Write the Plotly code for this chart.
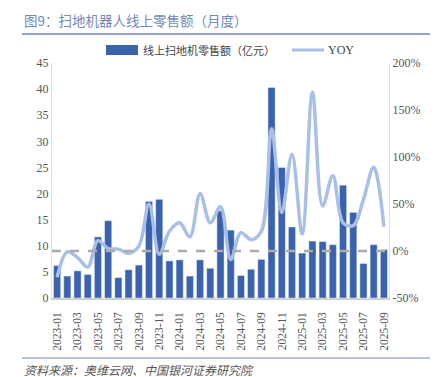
import plotly.graph_objects as go

months = [f"{y}-{m:02d}" for y in (2023, 2024, 2025) for m in range(1, 13)][:33]
sales = [6.2, 4.2, 5.2, 4.5, 11.7, 14.8, 3.9, 5.4, 6.3, 18.5, 18.9, 7.1,
         7.3, 4.2, 7.3, 5.7, 16.7, 13.0, 4.3, 5.5, 7.4, 40.3, 25.0, 13.6,
         8.6, 10.9, 10.8, 10.2, 21.6, 16.4, 6.6, 10.2, 9.25]
yoy = [-28, -1, -7, -17, 11, 2.5, 2, -2.5, 5, 50, -3.5, 21,
       30, 15, 61, 30, 47, -9, 19.5, 12, 21, 130, 41, 103,
       18, 169, 48, 80, 30, 27, 55, 89, 26]
tick_labels = months[::2]
left_ticks = list(range(0, 50, 5))
right_ticks = [-50, 0, 50, 100, 150, 200]
right_text = [f"{v}%" for v in right_ticks]

BAR = "#3A62AD"
LINE = "#A8BFE6"
TITLE = "#7189BD"
SERIF = "Liberation Serif, Noto Sans CJK SC"
CJK = "Noto Sans CJK SC"

fig = go.Figure()
fig.add_trace(go.Bar(x=months, y=sales, marker_color=BAR, name="线上扫地机零售额（亿元）",
                     showlegend=False))
fig.add_trace(go.Scatter(x=months, y=yoy, yaxis="y2", mode="lines",
                         line=dict(color=LINE, width=3.5, shape="spline", smoothing=1.0),
                         name="YOY", showlegend=False))

OFF = 8  # page body margin
W, H = 438 - OFF, 377 - OFF
L, T = 52 - OFF, 63 - OFF
R = W - (389 - OFF)
B = H - (298 - OFF)
pw, ph = W - L - R, H - T - B
def px(x): return (x - OFF - L) / pw
def py(y): return (H - B - (y - OFF)) / ph

shapes = [
    dict(type="line", xref="paper", yref="y2", x0=0, x1=1, y0=0, y1=0,
         line=dict(color="#ABABAB", width=2.5, dash="dash")),
    dict(type="line", xref="paper", yref="paper", x0=px(22), x1=px(435), y0=py(34), y1=py(34),
         line=dict(color=TITLE, width=1.5)),
    dict(type="line", xref="paper", yref="paper", x0=px(22), x1=px(435), y0=py(358), y1=py(358),
         line=dict(color=TITLE, width=1)),
    dict(type="rect", xref="paper", yref="paper", x0=px(106), x1=px(138), y0=py(55), y1=py(45),
         fillcolor=BAR, line=dict(width=0)),
    dict(type="line", xref="paper", yref="paper", x0=px(292), x1=px(324), y0=py(50), y1=py(50),
         line=dict(color=LINE, width=3)),
]
annotations = [
    dict(text="图9：扫地机器人线上零售额（月度）", xref="paper", yref="paper", x=px(22), y=py(20),
         xanchor="left", yanchor="middle", showarrow=False,
         font=dict(family=CJK, size=13.5, color=TITLE)),
    dict(text="线上扫地机零售额（亿元）", xref="paper", yref="paper", x=px(141), y=py(50),
         xanchor="left", yanchor="middle", showarrow=False,
         font=dict(family=CJK, size=11, color="#444444")),
    dict(text="YOY", xref="paper", yref="paper", x=px(326), y=py(50),
         xanchor="left", yanchor="middle", showarrow=False,
         font=dict(family=SERIF, size=12, color="#444444")),
    dict(text="<i>资料来源：奥维云网、中国银河证券研究院</i>", xref="paper", yref="paper", x=px(22), y=py(369),
         xanchor="left", yanchor="middle", showarrow=False,
         font=dict(family=CJK, size=12, color="#555555")),
]

fig.update_layout(
    width=W, height=H, margin=dict(l=L, r=R, t=T, b=B, autoexpand=False),
    paper_bgcolor="white", plot_bgcolor="white",
    bargap=0.3,
    shapes=shapes, annotations=annotations,
    xaxis=dict(type="category", tickmode="array", tickvals=tick_labels, ticktext=tick_labels,
               tickangle=-90, tickfont=dict(family=SERIF, size=11.5, color="#555555"),
               showline=True, linecolor="#D0D0D0", linewidth=1.5,
               ticks="outside", ticklen=8, tickcolor="rgba(0,0,0,0)", showgrid=False,
               automargin=False),
    yaxis=dict(range=[0, 45], tickvals=left_ticks, showgrid=False, zeroline=False,
               showline=True, linecolor="#E0E0E0", linewidth=1, automargin=False,
               tickfont=dict(family=SERIF, size=12, color="#555555")),
    yaxis2=dict(range=[-50, 200], tickmode="array", tickvals=right_ticks, ticktext=right_text,
                overlaying="y", side="right", automargin=False,
                showgrid=False, zeroline=False, showline=True, linecolor="#E0E0E0", linewidth=1,
                tickfont=dict(family=SERIF, size=12, color="#555555")),
)

fig.write_html("out.html")
